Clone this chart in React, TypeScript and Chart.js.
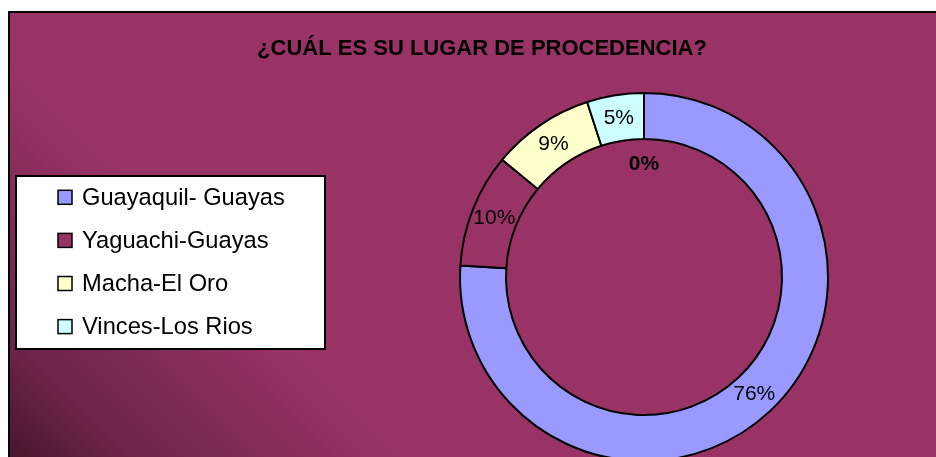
import { useEffect, useRef } from "react";
import { Chart, ArcElement, DoughnutController } from "chart.js";

Chart.register(ArcElement, DoughnutController);

const TITLE = "¿CUÁL ES SU LUGAR DE PROCEDENCIA?";
const categories = ["Guayaquil- Guayas", "Yaguachi-Guayas", "Macha-El Oro", "Vinces-Los Rios", ""];
const percentages = [76, 10, 9, 5, 0];
const sliceColors = ["#9999FF", "#993366", "#FFFFCC", "#CCFFFF", "#FFFFFF"];

const FONT = "'Liberation Sans', Arial, sans-serif";

const titlePlugin = {
  id: "wideTitle",
  afterDraw(chart: any) {
    const ctx = chart.ctx;
    ctx.save();
    ctx.fillStyle = "#000000";
    ctx.font = `bold 22px ${FONT}`;
    ctx.textAlign = "center";
    ctx.textBaseline = "alphabetic";
    ctx.fillText(TITLE, 472, 42);
    ctx.restore();
  },
};

const legendPlugin = {
  id: "boxLegend",
  afterDraw(chart: any) {
    const ctx = chart.ctx;
    const labels: string[] = chart.data.labels;
    const colors: string[] = chart.data.datasets[0].backgroundColor;
    ctx.save();
    const bx = 6, by = 163, bw = 309, bh = 173;
    ctx.fillStyle = "#FFFFFF";
    ctx.fillRect(bx, by, bw, bh);
    ctx.strokeStyle = "#000000";
    ctx.lineWidth = 2;
    ctx.strokeRect(bx, by, bw, bh);
    const items = labels.map((l, i) => ({ l, c: colors[i] })).filter((it) => it.l !== "");
    const startY = 184.3;
    const step = 43.1;
    ctx.font = `23.7px ${FONT}`;
    ctx.textBaseline = "middle";
    ctx.textAlign = "left";
    items.forEach((it, i) => {
      const cy = startY + i * step;
      ctx.fillStyle = it.c;
      ctx.fillRect(48, cy - 7, 14, 14);
      ctx.lineWidth = 1.5;
      ctx.strokeStyle = "#000000";
      ctx.strokeRect(48, cy - 7, 14, 14);
      ctx.fillStyle = "#000000";
      ctx.fillText(it.l, 72, cy + 1);
    });
    ctx.restore();
  },
};

const labelPlugin = {
  id: "sliceLabels",
  afterDatasetsDraw(chart: any) {
    const ctx = chart.ctx;
    const meta = chart.getDatasetMeta(0);
    const values: number[] = chart.data.datasets[0].data;
    ctx.save();
    ctx.fillStyle = "#000000";
    ctx.textAlign = "center";
    ctx.textBaseline = "middle";
    meta.data.forEach((arc: any, i: number) => {
      const v = values[i];
      const p = arc.getProps(["x", "y", "startAngle", "endAngle", "innerRadius", "outerRadius"], true);
      const text = `${v}%`;
      if (v === 0) {
        ctx.font = `bold 21px ${FONT}`;
        ctx.fillText(text, p.x, p.y - p.innerRadius + 25);
      } else {
        const mid = (p.startAngle + p.endAngle) / 2;
        const r = (p.innerRadius + p.outerRadius) / 2;
        ctx.font = `21px ${FONT}`;
        ctx.fillText(text, p.x + Math.cos(mid) * r, p.y + Math.sin(mid) * r);
      }
    });
    ctx.restore();
  },
};

export default function App() {
  const ref = useRef<HTMLCanvasElement | null>(null);

  useEffect(() => {
    if (!ref.current) return;
    const chart = new Chart(ref.current, {
      type: "doughnut",
      data: {
        labels: categories,
        datasets: [
          {
            data: percentages,
            backgroundColor: sliceColors,
            borderColor: "#000000",
            borderWidth: 2,
          },
        ],
      },
      options: {
        responsive: false,
        animation: false,
        devicePixelRatio: 1,
        cutout: "75%",
        layout: { padding: { left: 449, right: 125, top: 79, bottom: 11 } },
        plugins: {
          legend: { display: false },
          tooltip: { enabled: false },
        },
      } as any,
      plugins: [titlePlugin, legendPlugin, labelPlugin],
    });
    return () => chart.destroy();
  }, []);

  return (
    <div
      style={{
        position: "fixed",
        left: 8,
        top: 11,
        width: 928,
        height: 446,
        boxSizing: "border-box",
        borderLeft: "2px solid #000",
        borderTop: "2px solid #000",
        overflow: "hidden",
        background: "linear-gradient(45deg, #48162f 0px, #6e2549 90px, #993366 280px, #993366 100%)",
      }}
    >
      <canvas
        ref={ref}
        width={944}
        height={460}
        style={{ position: "absolute", left: 0, top: 0, width: 944, height: 460 }}
      />
    </div>
  );
}
